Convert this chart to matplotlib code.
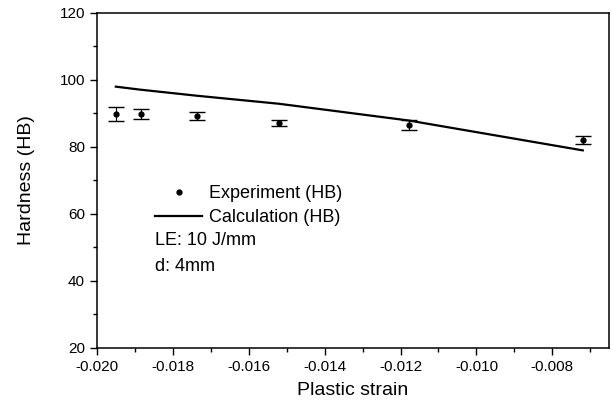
import matplotlib
matplotlib.use("Agg")
import matplotlib.pyplot as plt
from matplotlib.ticker import MultipleLocator
from matplotlib.lines import Line2D

plt.rcParams['font.family'] = ['Liberation Sans', 'DejaVu Sans']

# Experimental data
exp_strain = [-0.0195, -0.01885, -0.01737, -0.0152, -0.01178, -0.0072]
exp_hardness = [89.8, 89.7, 89.2, 87.1, 86.5, 82.0]
exp_err = [2.1, 1.5, 1.1, 0.9, 1.5, 1.2]

# Calculation
calc_strain = [-0.0195, -0.01885, -0.01737, -0.0152, -0.01178, -0.0072]
calc_hardness = [97.9, 97.0, 95.2, 92.8, 87.8, 78.9]

fig = plt.figure(figsize=(6.13, 4.05), dpi=100)
ax = fig.add_axes([0.158, 0.141, 0.836, 0.828])

ax.errorbar(exp_strain, exp_hardness, yerr=exp_err, fmt='o', color='black',
            markersize=3.5, capsize=5.5, capthick=1.0, elinewidth=0.8,
            label='Experiment (HB)')
ax.plot(calc_strain, calc_hardness, '-', color='black', lw=1.6,
        label='Calculation (HB)')

ax.set_xlim(-0.020, -0.0065)
ax.set_ylim(20, 120)
ax.xaxis.set_major_locator(MultipleLocator(0.002))
ax.xaxis.set_minor_locator(MultipleLocator(0.001))
ax.yaxis.set_major_locator(MultipleLocator(20))
ax.yaxis.set_minor_locator(MultipleLocator(10))
ax.xaxis.set_major_formatter(plt.FuncFormatter(lambda v, p: f"{v:.3f}"))

ax.tick_params(which='major', direction='out', length=5, width=1.0,
               labelsize=11, top=False, right=False)
ax.tick_params(which='minor', direction='out', length=3, width=1.0,
               top=False, right=False)
for s in ax.spines.values():
    s.set_linewidth(1.1)

ax.set_xlabel('Plastic strain', fontsize=14, labelpad=6)
ax.set_ylabel('Hardness (HB)', fontsize=14, labelpad=18)

handles = [Line2D([], [], marker='o', ls='none', color='black', markersize=3.5),
           Line2D([], [], ls='-', color='black', lw=1.6)]
leg = ax.legend(handles, ['Experiment (HB)', 'Calculation (HB)'],
                loc='upper left', bbox_to_anchor=(0.107, 0.497),
                frameon=False, fontsize=13, handlelength=2.6,
                handletextpad=0.35, labelspacing=0.39, borderpad=0.2,
                borderaxespad=0)

ax.text(0.113, 0.319, 'LE: 10 J/mm', transform=ax.transAxes,
        fontsize=13, va='center', ha='left')
ax.text(0.113, 0.242, 'd: 4mm', transform=ax.transAxes,
        fontsize=13, va='center', ha='left')

fig.savefig('out.png', dpi=100)
